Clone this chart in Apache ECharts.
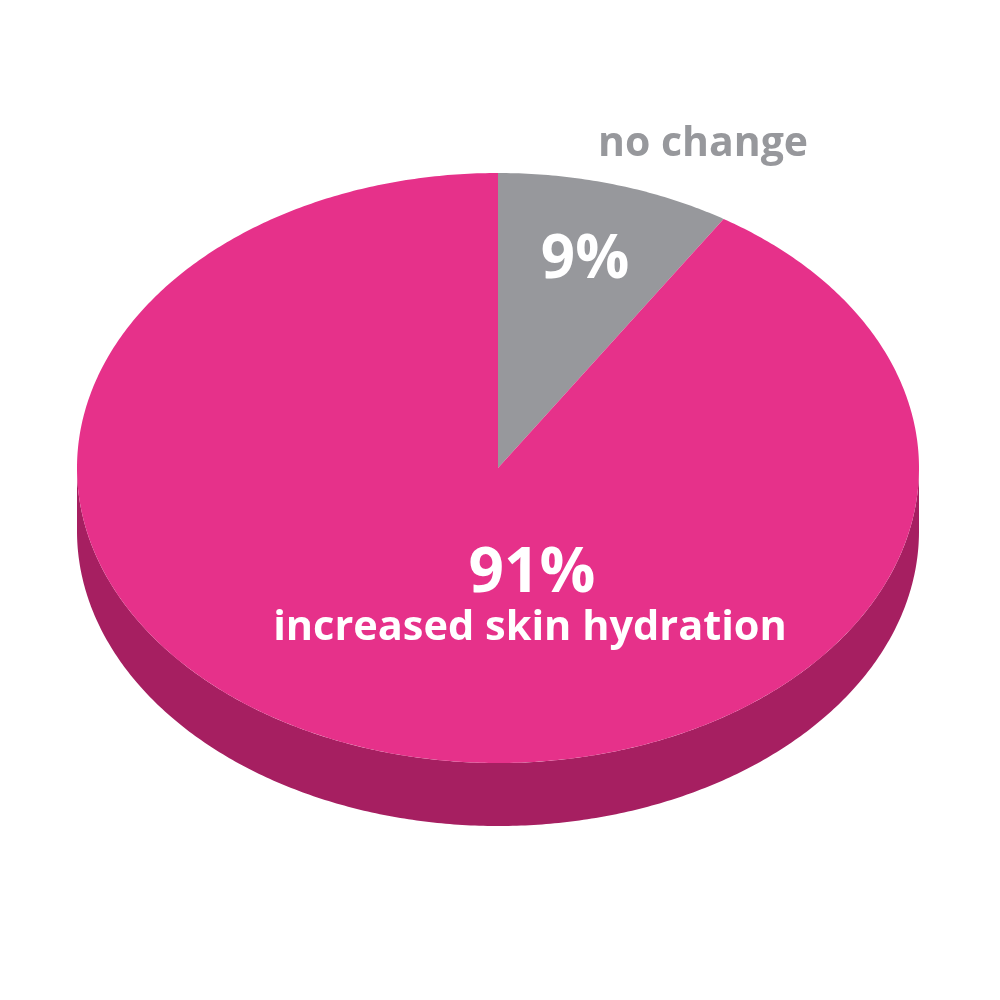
<!DOCTYPE html>
<html>
<head>
<meta charset="utf-8">
<script src="https://cdn.jsdelivr.net/npm/echarts@6/dist/echarts.min.js"></script>
<style>
  html, body { margin: 0; padding: 0; background: #fff; }
  #chart { width: 1000px; height: 1000px; }
</style>
</head>
<body>
<div id="chart"></div>
<script>
const categories = ['no change', 'increased skin hydration'];
const values = [9, 91];

const topColors = ['#97989c', '#e6318a'];
const sideColors = ['#6f7074', '#a61f61'];

// ellipse of the tilted pie
const cx = 498, cy = 468, rx = 421, ry = 295, depth = 63;
const total = values.reduce((a, b) => a + b, 0);

const pt = (a, dy) => [cx + rx * Math.sin(a), cy - ry * Math.cos(a) + (dy || 0)];

const arc = (s, e, dy) => {
  const n = Math.max(2, Math.ceil((e - s) / 0.01));
  const pts = [];
  for (let k = 0; k <= n; k++) pts.push(pt(s + (e - s) * k / n, dy));
  return pts;
};

const pct = v => Math.round(v / total * 100) + '%';

let myChart = echarts.init(document.getElementById('chart'));

const option = {
  backgroundColor: '#fff',
  animation: false,
  series: [{
    type: 'custom',
    coordinateSystem: 'none',
    z: 1,
    data: values,
    renderItem: (params, api) => {
      const i = params.dataIndex;
      const before = values.slice(0, i).reduce((a, b) => a + b, 0);
      const s = before / total * Math.PI * 2;
      const e = s + api.value(0) / total * Math.PI * 2;
      const children = [];
      // visible side (front half only)
      const a = Math.max(s, Math.PI / 2), b = Math.min(e, Math.PI * 1.5);
      if (a < b) {
        const side = arc(a, b, 0).concat(arc(a, b, depth).reverse());
        children.push({ type: 'polygon', shape: { points: side }, style: { fill: sideColors[i] } });
      }
      const top = [[cx, cy]].concat(arc(s, e, 0));
      children.push({ type: 'polygon', shape: { points: top }, style: { fill: topColors[i] } });
      return { type: 'group', children };
    }
  }],
  graphic: [
    { type: 'text', z: 100, x: 703, y: 144, style: { text: categories[0], fill: '#97989c', font: 'bold 41px "Open Sans"', align: 'center', verticalAlign: 'middle' } },
    { type: 'text', z: 100, x: 585, y: 261, style: { text: pct(values[0]), fill: '#fff', font: 'bold 60px "Open Sans"', align: 'center', verticalAlign: 'middle' } },
    { type: 'text', z: 100, x: 532, y: 574, style: { text: pct(values[1]), fill: '#fff', font: 'bold 62px "Open Sans"', align: 'center', verticalAlign: 'middle' } },
    { type: 'text', z: 100, x: 530, y: 628, style: { text: categories[1], fill: '#fff', font: 'bold 41.5px "Open Sans"', align: 'center', verticalAlign: 'middle' } }
  ]
};

myChart.setOption(option);
window.addEventListener('resize', () => myChart.resize());
</script>
</body>
</html>
